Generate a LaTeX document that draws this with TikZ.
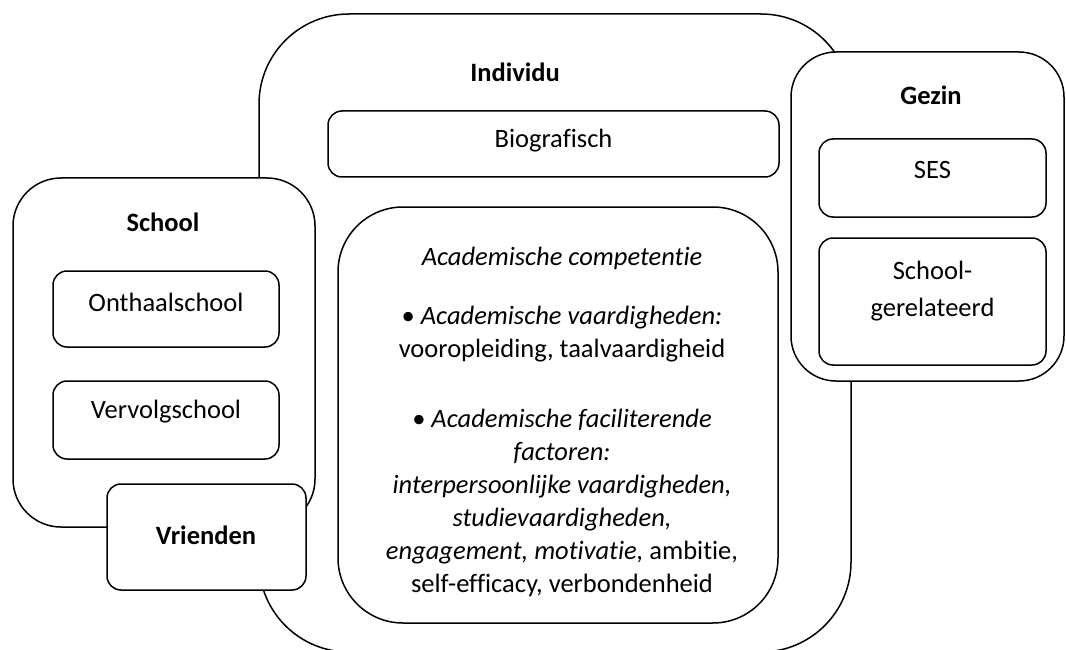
\documentclass[tikz,border=0pt]{standalone}
\usepackage{fontspec}
\setmainfont{Carlito}[Ligatures=NoCommon]

\tikzset{
    sphere/.style={draw, line width=1.5pt, fill=white, inner sep=0pt, rounded corners=#1},
    factor/.style={draw, line width=1.5pt, fill=white, inner sep=0pt, rounded corners=14pt},
    lbl/.style={font=\fontsize{26.5}{33}\selectfont, inner sep=0pt, align=center},
    title/.style={lbl, font=\fontsize{26.5}{33}\selectfont\bfseries}
}

\begin{document}
\begin{tikzpicture}[x=1pt, y=-1pt]
    \useasboundingbox (0,0) rectangle (1066,650);
    \clip (0,0) rectangle (1066,650);
    % Individu: big middle sphere
    \node[sphere=90pt, minimum width=592, minimum height=638] (individu) at (555,333) {};
    \node[title] (individuT) at (515,72) {Individu};
    \node[factor, minimum width=451, minimum height=66] (bio) at (553.5,144) {};
    \node[lbl] (bioT) at (553.5,141) {Biografisch};
    \node[sphere=65pt, minimum width=440, minimum height=416] (acad) at (558,415) {};
    \node[lbl] (acadT) at (562,422) {%
        \textit{Academische competentie}\\[26pt]
        \textbullet\ \textit{Academische vaardigheden:}\\
        vooropleiding, taalvaardigheid\\[37pt]
        \textbullet\ \textit{Academische faciliterende}\\
        \textit{factoren:}\\
        \textit{interpersoonlijke vaardigheden,}\\
        \textit{studievaardigheden,}\\
        \textit{engagement, motivatie,} ambitie,\\
        self-efficacy, verbondenheid};
    % Gezin: right sphere
    \node[sphere=45pt, minimum width=273, minimum height=329] (gezin) at (927.5,216.5) {};
    \node[title] (gezinT) at (931,95) {Gezin};
    \node[factor, minimum width=227, minimum height=78] (ses) at (932.5,178) {};
    \node[lbl] (sesT) at (932.5,170) {SES};
    \node[factor, minimum width=227, minimum height=127] (schoolrel) at (932.5,301.5) {};
    \node[lbl] (schoolrelT) at (932.5,291) {School-\\[4pt]gerelateerd};
    % School: left sphere
    \node[sphere=48pt, minimum width=302, minimum height=349] (school) at (164,352.5) {};
    \node[title] (schoolT) at (163,222) {School};
    \node[factor, minimum width=226, minimum height=76] (onthaal) at (166,309) {};
    \node[lbl] (onthaalT) at (166,302) {Onthaalschool};
    \node[factor, minimum width=226, minimum height=78] (vervolg) at (166,420) {};
    \node[lbl] (vervolgT) at (166,412) {Vervolgschool};
    % Vrienden on top of School and Individu
    \node[factor, minimum width=199, minimum height=106] (vrienden) at (206.5,537) {};
    \node[title] (vriendenT) at (206,535) {Vrienden};
\end{tikzpicture}
\end{document}
